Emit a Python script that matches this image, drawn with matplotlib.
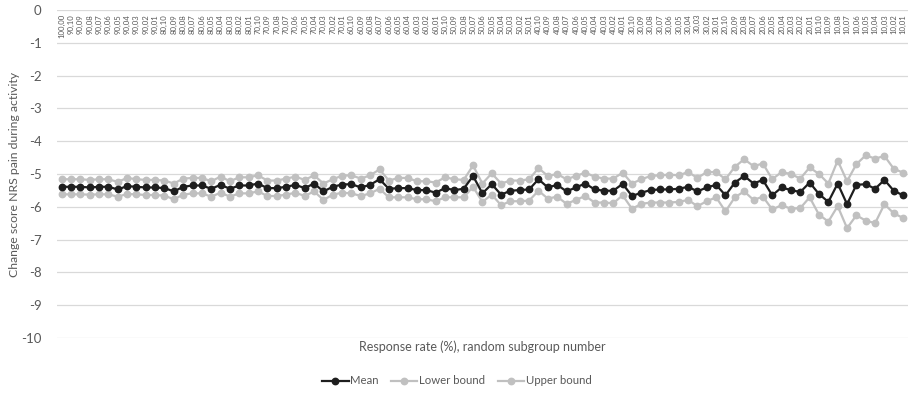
import numpy as np
import matplotlib
matplotlib.use("Agg")
import matplotlib.pyplot as plt

plt.rcParams['font.family'] = ['Lato', 'DejaVu Sans']

# response rate / subgroup labels: 100,00 then 90,10 ... 10,01
subgroups = ["100,00"] + [f"{r},{k:02d}" for r in range(90, 0, -10) for k in range(10, 0, -1)]

mean = [-5.39, -5.39, -5.39, -5.41, -5.39, -5.39, -5.47, -5.37, -5.39, -5.41,
        -5.41, -5.43, -5.53, -5.39, -5.35, -5.35, -5.45, -5.33, -5.45, -5.35,
        -5.35, -5.29, -5.43, -5.43, -5.39, -5.33, -5.43, -5.29, -5.53, -5.39,
        -5.32, -5.31, -5.41, -5.33, -5.16, -5.45, -5.43, -5.43, -5.49, -5.49,
        -5.57, -5.43, -5.49, -5.45, -5.06, -5.59, -5.31, -5.63, -5.51, -5.49,
        -5.47, -5.16, -5.41, -5.33, -5.53, -5.41, -5.29, -5.47, -5.51, -5.51,
        -5.30, -5.67, -5.57, -5.49, -5.47, -5.47, -5.45, -5.39, -5.53, -5.41,
        -5.33, -5.65, -5.26, -5.06, -5.29, -5.18, -5.65, -5.41, -5.49, -5.55,
        -5.26, -5.61, -5.85, -5.29, -5.92, -5.33, -5.31, -5.45, -5.18, -5.51,
        -5.65]

lower = [-5.62, -5.62, -5.62, -5.63, -5.62, -5.62, -5.69, -5.61, -5.62, -5.64,
         -5.64, -5.66, -5.77, -5.63, -5.59, -5.59, -5.69, -5.57, -5.69, -5.59,
         -5.59, -5.53, -5.67, -5.67, -5.63, -5.57, -5.67, -5.53, -5.79, -5.63,
         -5.57, -5.59, -5.67, -5.59, -5.45, -5.71, -5.71, -5.71, -5.77, -5.77,
         -5.83, -5.71, -5.71, -5.71, -5.39, -5.85, -5.63, -5.95, -5.83, -5.83,
         -5.81, -5.51, -5.75, -5.69, -5.91, -5.79, -5.67, -5.87, -5.87, -5.89,
         -5.65, -6.06, -5.91, -5.87, -5.87, -5.87, -5.85, -5.79, -5.98, -5.83,
         -5.71, -6.14, -5.71, -5.53, -5.79, -5.69, -6.08, -5.95, -6.06, -6.04,
         -5.71, -6.24, -6.45, -5.98, -6.65, -6.26, -6.42, -6.50, -5.92, -6.20,
         -6.34]

upper = [-5.16, -5.16, -5.16, -5.18, -5.16, -5.16, -5.24, -5.12, -5.16, -5.18,
         -5.18, -5.20, -5.29, -5.14, -5.12, -5.12, -5.22, -5.08, -5.22, -5.10,
         -5.10, -5.04, -5.20, -5.20, -5.14, -5.08, -5.18, -5.04, -5.29, -5.16,
         -5.05, -5.04, -5.14, -5.04, -4.86, -5.20, -5.12, -5.12, -5.22, -5.22,
         -5.26, -5.10, -5.16, -5.18, -4.74, -5.29, -4.98, -5.29, -5.20, -5.20,
         -5.16, -4.82, -5.06, -5.00, -5.16, -5.06, -4.96, -5.08, -5.14, -5.14,
         -4.96, -5.29, -5.16, -5.06, -5.04, -5.02, -5.04, -4.94, -5.12, -4.94,
         -4.94, -5.16, -4.78, -4.55, -4.76, -4.68, -5.16, -4.94, -5.00, -5.14,
         -4.80, -5.00, -5.29, -4.59, -5.22, -4.70, -4.43, -4.53, -4.45, -4.84,
         -4.96]

yticks = list(range(0, -11, -1))

txt = '#595959'
fig = plt.figure(figsize=(9.10, 3.94), dpi=100)
ax = fig.add_axes([0.0626, 0.1421, 0.935, 0.8325])

x = np.arange(len(subgroups))
ax.plot(x, mean, color='#1e1e1e', lw=1.6, marker='o', ms=4.6, label='Mean', zorder=4)
ax.plot(x, lower, color='#c0c0c0', lw=1.6, marker='o', ms=4.6, label='Lower bound', zorder=3)
ax.plot(x, upper, color='#c0c0c0', lw=1.6, marker='o', ms=4.6, label='Upper bound', zorder=3)

ax.set_xlim(-0.5, len(subgroups) - 0.5)
ax.set_ylim(-10, 0)
ax.set_yticks(yticks)
ax.set_yticklabels([str(v) for v in yticks])
ax.grid(axis='y', color='#d9d9d9', lw=0.9)
ax.set_axisbelow(True)
for s in ax.spines.values():
    s.set_visible(False)
ax.tick_params(axis='y', length=0, labelsize=9.5, labelcolor=txt, pad=11)
ax.set_xticks([])

# category labels hang below the zero line
for i, lab in enumerate(subgroups):
    ax.text(i, -0.12, lab, rotation=90, ha='center', va='top', fontsize=5.6,
            color=txt)

ax.set_ylabel('Change score NRS pain during activity', fontsize=8.8, color=txt, labelpad=1)
ax.text(0.5, -0.008, 'Response rate (%), random subgroup number', transform=ax.transAxes,
        ha='center', va='top', fontsize=9, color=txt)

leg = fig.legend(loc='center', bbox_to_anchor=(0.502, 0.033), ncol=3, frameon=False,
                 fontsize=8.2, handlelength=2.3, columnspacing=1.1, handletextpad=0.15)
for t in leg.get_texts():
    t.set_color(txt)

fig.savefig('out.png', dpi=100)
